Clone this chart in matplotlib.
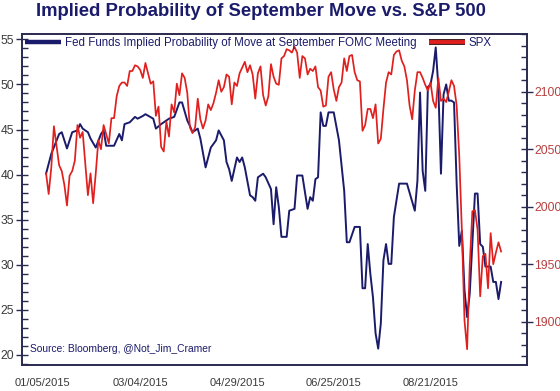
import numpy as np
import pandas as pd
import matplotlib
matplotlib.use("Agg")
import matplotlib.pyplot as plt
from matplotlib.lines import Line2D
from matplotlib.ticker import MultipleLocator
import matplotlib.patheffects as pe

plt.rcParams['font.family'] = ['Liberation Sans', 'DejaVu Sans']

# ---------------- data ----------------
title = "Implied Probability of September Move vs. S&P 500"
blue_label = "Fed Funds Implied Probability of Move at September FOMC Meeting"
red_label = "SPX"
source = "Source: Bloomberg, @Not_Jim_Cramer"

# trading days (x categories)
holidays = ['2015-01-19', '2015-02-16', '2015-04-03', '2015-05-25', '2015-07-03', '2015-09-07']
dates = pd.bdate_range('2015-01-05', '2015-09-14', freq='C', holidays=holidays)

# SPX (right axis), one value per trading day
spx = [2029, 2011, 2034, 2070, 2053, 2036, 2031, 2019, 2001, 2027,
       2031, 2040, 2071, 2060, 2065, 2038, 2010, 2029, 2003, 2029,
       2058, 2050, 2071, 2063, 2055, 2077, 2077, 2096, 2105, 2108,
       2108, 2105, 2118, 2118, 2123, 2122, 2119, 2112, 2125, 2116,
       2107, 2109, 2079, 2087, 2052, 2048, 2074, 2061, 2089, 2082,
       2107, 2097, 2116, 2112, 2099, 2069, 2064, 2069, 2094, 2076,
       2068, 2075, 2089, 2084, 2090, 2099, 2110, 2100, 2104, 2115,
       2113, 2089, 2108, 2105, 2116, 2121, 2126, 2117, 2123, 2115,
       2094, 2116, 2122, 2097, 2088, 2096, 2124, 2113, 2107, 2106,
       2129, 2131, 2137, 2136, 2134, 2139, 2134, 2112, 2131, 2129,
       2115, 2120, 2118, 2122, 2104, 2101, 2087, 2088, 2113, 2117,
       2102, 2092, 2104, 2108, 2129, 2118, 2131, 2132, 2117, 2110,
       2109, 2066, 2071, 2085, 2085, 2077, 2089, 2055, 2059, 2085,
       2108, 2117, 2115, 2132, 2135, 2136, 2127, 2122, 2110, 2088,
       2076, 2101, 2117, 2117, 2112, 2106, 2101, 2108, 2092, 2086,
       2112, 2092, 2094, 2091, 2100, 2110, 2105, 2088, 2044, 1979,
       1901, 1876, 1949, 1996, 1997, 1980, 1922, 1957, 1959, 1929,
       1977, 1950, 1960, 1969, 1961]

# Fed funds implied probability (left axis): trading-day number and value
prob_day = [0, 2, 5, 6, 8, 10, 12, 13, 14, 16, 17, 19, 21, 22, 23, 26, 28, 29, 30,
            32, 34, 35, 37, 38, 41, 42, 44, 47, 49, 51, 52, 54, 55, 56, 58, 59,
            61, 63, 65, 66, 68, 69, 70, 71, 73, 74, 75, 76, 78, 79, 80, 81, 83,
            84, 86, 87, 88, 89, 90, 92, 93, 95, 96, 98, 100, 101, 102, 103, 104,
            105, 106, 107, 108, 110, 112, 114, 115, 116, 118, 120, 121, 122, 123,
            124, 125, 126, 127, 128, 129, 130, 131, 132, 133, 135, 138, 141, 142,
            143, 144, 145, 146, 147, 148, 149, 150, 151, 152, 153, 154, 155, 156,
            157, 158, 159, 160, 161, 162, 164, 165, 166, 167, 168, 170, 171, 172,
            173, 174]
prob = [40.1, 42.3, 44.5, 44.7, 42.9, 44.7, 44.9, 45.6, 45.1, 44.7, 44.0, 43.0, 44.5, 44.9, 43.2, 43.2, 44.5, 43.8, 45.6,
        45.8, 46.4, 46.2, 46.5, 46.7, 46.2, 45.1, 45.6, 46.2, 46.4, 48.0, 48.0, 46.0, 45.4, 44.7, 45.1, 44.0,
        40.8, 43.0, 43.8, 44.9, 43.8, 41.4, 40.6, 39.3, 41.9, 41.4, 41.9, 40.8, 37.7, 37.5, 37.1, 39.7, 40.1,
        39.7, 38.4, 34.5, 38.6, 36.4, 33.1, 33.1, 36.0, 36.2, 39.9, 39.9, 36.2, 37.5, 37.1, 39.5, 39.7,
        46.9, 45.4, 45.4, 46.9, 46.9, 43.8, 38.2, 32.5, 32.5, 34.2, 34.2, 27.4, 27.4, 32.3,
        29.0, 26.4, 22.4, 20.7, 23.5, 30.5, 32.3, 30.1, 30.1, 35.3, 39.0, 39.0, 36.0, 39.3,
        49.1, 40.4, 38.2, 49.7, 50.0, 51.5, 54.1, 49.7, 40.1, 48.9, 50.0, 48.2, 48.2, 48.0,
        39.0, 32.1, 33.8, 27.2, 24.2, 26.8, 37.9, 37.9, 32.3, 32.0, 29.8, 29.8, 28.1, 28.1,
        26.2, 28.1]

xtick_labels = ['01/05/2015', '03/04/2015', '04/29/2015', '06/25/2015', '08/21/2015']

# ---------------- styling ----------------
navy = '#1b1b6b'
red = '#e0201e'
frame = '#2a2a50'
gray = '#3a3a3a'
right_lab = '#b84040'

W, H = 560, 391
fig = plt.figure(figsize=(W / 100, H / 100), dpi=100)
L, R, T, B = 22, 527, 34, 365
ax = fig.add_axes([L / W, 1 - B / H, (R - L) / W, (B - T) / H])
ax2 = ax.twinx()

x_all = np.arange(len(dates))
ax.plot(x_all[prob_day], prob, color=navy, lw=1.4, zorder=3)
ax2.plot(x_all[:len(spx)], spx, color=red, lw=1.25, zorder=3)

ax.set_xlim(-9.2, 183.9)
ax.set_ylim(18.89, 55.59)
ax2.set_ylim(1862.3, 2150.2)

ax.yaxis.set_major_locator(MultipleLocator(5))
ax.yaxis.set_minor_locator(MultipleLocator(1))
ax2.yaxis.set_major_locator(MultipleLocator(50))
ax2.yaxis.set_minor_locator(MultipleLocator(10))
ax2.set_yticks([1900, 1950, 2000, 2050, 2100])

xtick_pos = [-1.2, 35.9, 73.0, 109.8, 147.2]
ax.set_xticks(xtick_pos)
ax.set_xticklabels(xtick_labels)
ax.tick_params(axis='x', length=0, pad=9, labelsize=8, labelcolor=gray)

ax.tick_params(axis='y', which='major', direction='inout', length=8, width=1,
               color=frame, labelsize=8.7, labelcolor=gray, pad=1.5)
ax.tick_params(axis='y', which='minor', direction='in', length=4, width=1, color=frame)
ax2.tick_params(axis='y', which='major', direction='inout', length=8, width=1,
                color=frame, labelsize=8.7, labelcolor=right_lab, pad=1)
ax2.tick_params(axis='y', which='minor', direction='in', length=4, width=1, color=frame)

for a in (ax, ax2):
    for s in a.spines.values():
        s.set_color(frame)
        s.set_linewidth(1.2)

# legend
h1 = Line2D([], [], color=navy, lw=3.2, solid_capstyle='butt')
h2 = Line2D([], [], color=red, lw=2.8, solid_capstyle='butt',
            path_effects=[pe.Stroke(linewidth=4.2, foreground='#3a1010'), pe.Normal()])
leg = ax2.legend([h1, h2], [blue_label, red_label], loc='upper left', ncol=2,
                 frameon=False, fontsize=8.3, handlelength=3.1, handletextpad=0.35,
                 columnspacing=1.1, borderpad=0.0, borderaxespad=0.25)
for t in leg.get_texts():
    t.set_color(navy)

ax.text(0.0158, 0.047, source, transform=ax.transAxes, fontsize=7.4, color=navy,
        ha='left', va='center')

fig.text(261 / W, 1 - 12 / H, title, ha='center', va='center', fontsize=13.3,
         fontweight='bold', color=navy)

fig.savefig('out.png', dpi=100)
